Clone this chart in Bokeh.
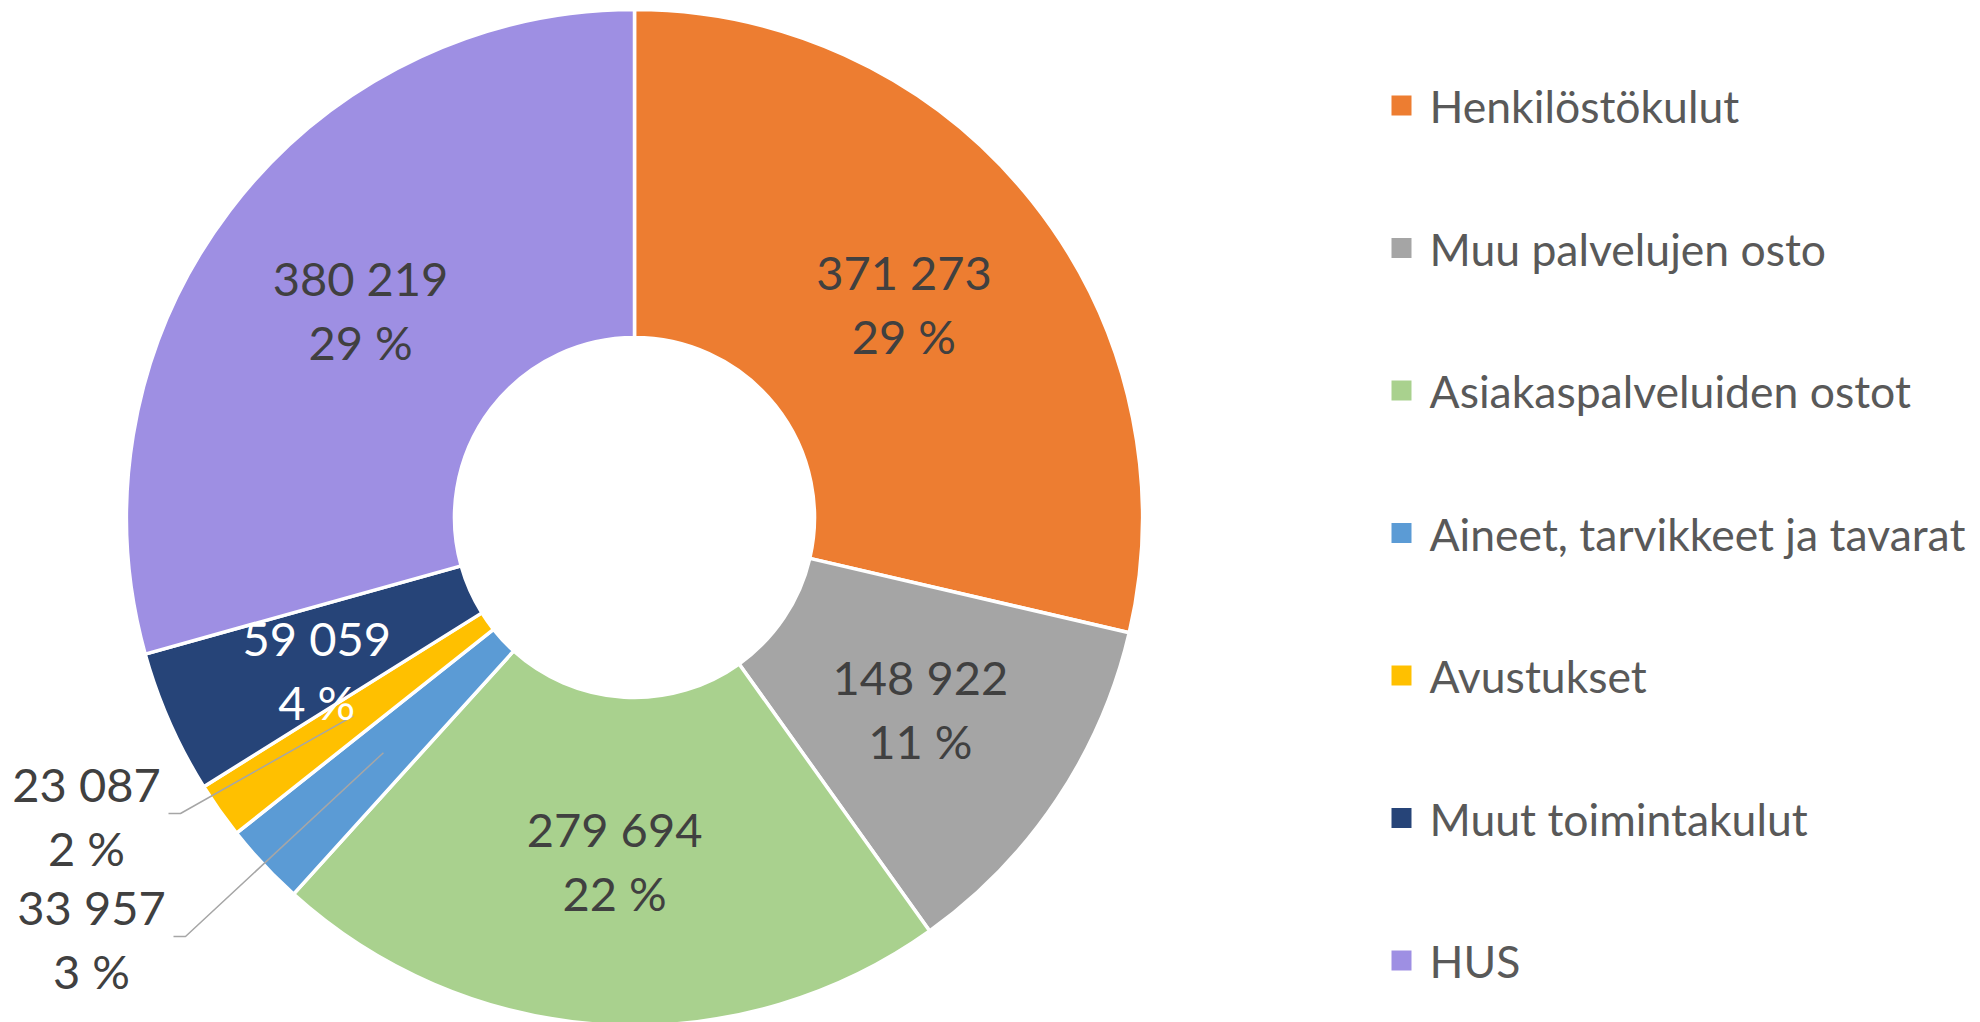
import numpy as np
from bokeh.plotting import figure
from bokeh.models import Range1d, ColumnDataSource
from bokeh.core.properties import value
from bokeh.embed import file_html
from bokeh.resources import INLINE

# ---- data ----
categories = ["Henkilöstökulut", "Muu palvelujen osto", "Asiakaspalveluiden ostot",
              "Aineet, tarvikkeet ja tavarat", "Avustukset", "Muut toimintakulut", "HUS"]
values = [371273, 148922, 279694, 33957, 23087, 59059, 380219]
pct_labels = ["29 %", "11 %", "22 %", "3 %", "2 %", "4 %", "29 %"]
colors = ["#ED7D31", "#A5A5A5", "#A9D18E", "#5B9BD5", "#FFC000", "#264478", "#9E8FE3"]
label_colors = ["#404040", "#404040", "#404040", "#404040", "#404040", "#FFFFFF", "#404040"]

# ---- layout (screen pixels) ----
W, H = 1980, 1022
OX, OY = 0, 0              # page position of canvas top-left
CX, CY = 634, 517          # donut centre in page coords
R_OUT, R_IN = 508, 180
FONT = "Lato"

def sx(x):  # page x -> data x
    return x - CX

def sy(y):  # page y -> data y (up)
    return CY - y

vals = np.array(values, dtype=float)
total = vals.sum()
cum = np.cumsum(vals)
prev = cum - vals
start = np.pi / 2 - 2 * np.pi * prev / total
end = np.pi / 2 - 2 * np.pi * cum / total
mid = (start + end) / 2
r_mid = (R_OUT + R_IN) / 2
mx = r_mid * np.cos(mid)
my = r_mid * np.sin(mid)

value_labels = [f"{v:,}".replace(",", " ") for v in values]

p = figure(width=W, height=H, output_backend="svg", toolbar_location=None,
           x_range=Range1d(OX - CX, OX - CX + W), y_range=Range1d(CY - OY - H, CY - OY),
           min_border=0, outline_line_color=None, background_fill_color="white",
           border_fill_color="white")
p.axis.visible = False
p.grid.visible = False

src = ColumnDataSource(dict(start=start, end=end, color=colors, cat=categories))
p.annular_wedge(x=0, y=0, inner_radius=R_IN, outer_radius=R_OUT,
                start_angle="start", end_angle="end", direction="clock",
                fill_color="color", line_color="white", line_width=3.5, source=src)

# data labels
outside = {3: (91, 938), 4: (86, 815)}   # moved labels (page coords of block centre)
nudge = {5: (-3, -14)}                    # small manual label nudges (pixels)
lx, ly = [], []
for i in range(len(values)):
    if i in outside:
        px, py = outside[i]
        lx.append(sx(px)); ly.append(sy(py))
        hx0, hx1 = sx(px + 82), sx(px + 94)
        hy = sy(py - 2)
        p.line(x=[hx0, hx1, mx[i]], y=[hy, hy, my[i]], line_color="#A6A6A6", line_width=1.5)
    else:
        dx, dy = nudge.get(i, (0, 0))
        lx.append(mx[i] + dx); ly.append(my[i] + dy)
lx = np.array(lx); ly = np.array(ly)
lsrc = ColumnDataSource(dict(x=lx, y1=ly + 32, y2=ly - 32, t1=value_labels, t2=pct_labels,
                             c=label_colors))
p.text(x="x", y="y1", text="t1", text_color="c", text_font=value(FONT), text_font_size="47px",
       text_align="center", text_baseline="middle", source=lsrc)
p.text(x="x", y="y2", text="t2", text_color="c", text_font=value(FONT), text_font_size="47px",
       text_align="center", text_baseline="middle", source=lsrc)

# legend (manual)
leg_y0, leg_dy = 105, 142.5
ly_leg = [sy(leg_y0 + i * leg_dy) for i in range(len(categories))]
gsrc = ColumnDataSource(dict(x=[sx(1401)] * len(categories), tx=[sx(1429)] * len(categories),
                             y=ly_leg, color=colors, cat=categories))
p.rect(x="x", y="y", width=20, height=20, fill_color="color", line_color=None, source=gsrc)
p.text(x="tx", y="y", text="cat", text_color="#595959", text_font=value(FONT),
       text_font_size="44.5px", text_align="left", text_baseline="middle", source=gsrc)

open("out.html", "w").write(file_html(p, INLINE))
